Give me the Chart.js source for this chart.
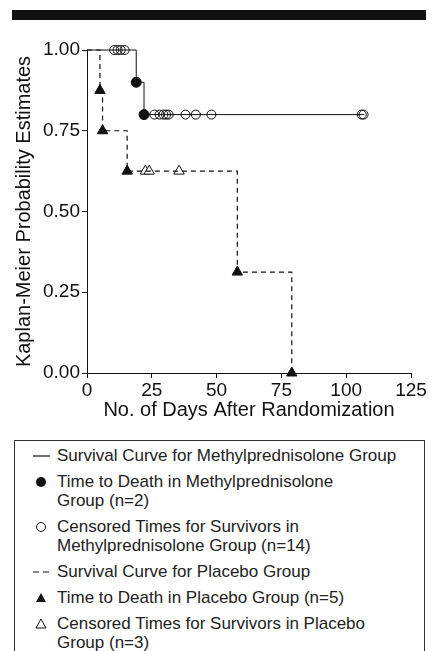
<!DOCTYPE html>
<html>
<head>
<meta charset="utf-8">
<script src="https://cdn.jsdelivr.net/npm/chart.js@4.4.1/dist/chart.umd.min.js"></script>
<style>
  body { margin: 0; background: #fff; font-family: "Liberation Sans", Arial, sans-serif; }
  #bar { position: absolute; left: 12px; top: 10px; width: 414px; height: 10px; background: #111; }
  #wrap { position: absolute; left: 0; top: 0; width: 437px; height: 430px; }
  #legend {
    position: absolute; left: 14px; top: 440px; width: 411px; height: 240px;
    border: 1px solid #333; box-sizing: border-box; padding-top: 5px;
    font-size: 17px; line-height: 19px; color: #222;
  }
  .item { display: flex; margin-bottom: 7px; }
  .sym { width: 24px; margin-left: 18px; height: 19px; flex: none; }
  .sym svg { display: block; }
</style>
</head>
<body>
<div id="bar"></div>
<div id="wrap"><canvas id="kmChart"></canvas></div>
<div id="legend"></div>

<script>
  // Axis ticks
  const xTicks = [0, 25, 50, 75, 100, 125];
  const yTicks = [0, 0.25, 0.5, 0.75, 1];

  // Methylprednisolone group
  const methylCurveDays = [0, 19, 22, 107];
  const methylCurveSurv = [1, 0.9, 0.8, 0.8];
  const methylDeathDays = [19, 22];
  const methylDeathSurv = [0.9, 0.8];
  const methylCensDays = [10.5, 11.8, 13, 14.5, 26, 28, 29.5, 30.5, 31.5, 38, 42, 48, 106, 106.7];
  const methylCensSurv = [1, 1, 1, 1, 0.8, 0.8, 0.8, 0.8, 0.8, 0.8, 0.8, 0.8, 0.8, 0.8];

  // Placebo group
  const placeboCurveDays = [0, 5, 6, 15.5, 58, 79];
  const placeboCurveSurv = [1, 0.875, 0.75, 0.625, 0.3125, 0];
  const placeboDeathDays = [5, 6, 15.5, 58, 79];
  const placeboDeathSurv = [0.875, 0.75, 0.625, 0.3125, 0];
  const placeboCensDays = [22.5, 24, 35.5];
  const placeboCensSurv = [0.625, 0.625, 0.625];

  const legendLabels = [
    ['Survival Curve for Methylprednisolone Group'],
    ['Time to Death in Methylprednisolone', 'Group (n=2)'],
    ['Censored Times for Survivors in', 'Methylprednisolone Group (n=14)'],
    ['Survival Curve for Placebo Group'],
    ['Time to Death in Placebo Group (n=5)'],
    ['Censored Times for Survivors in Placebo', 'Group (n=3)']
  ];

  function pts(xs, ys) {
    return xs.map((x, i) => ({ x: x, y: ys[i] }));
  }

  const ink = '#111';

  const ctx = document.getElementById('kmChart').getContext('2d');
  new Chart(ctx, {
    type: 'line',
    data: {
      datasets: [
        {
          data: pts(methylCurveDays, methylCurveSurv),
          stepped: true, borderColor: ink, borderWidth: 1, pointRadius: 0, clip: false
        },
        {
          data: pts(placeboCurveDays, placeboCurveSurv),
          stepped: true, borderColor: ink, borderWidth: 1.2, borderDash: [5, 4], pointRadius: 0, clip: false
        },
        {
          data: pts(methylCensDays, methylCensSurv), showLine: false,
          pointStyle: 'circle', pointRadius: 4.5, pointBorderWidth: 1,
          pointBorderColor: ink, pointBackgroundColor: 'rgba(0,0,0,0)', clip: false
        },
        {
          data: pts(methylDeathDays, methylDeathSurv), showLine: false,
          pointStyle: 'circle', pointRadius: 5, pointBorderWidth: 1,
          pointBorderColor: ink, pointBackgroundColor: ink, clip: false
        },
        {
          data: pts(placeboCensDays, placeboCensSurv), showLine: false,
          pointStyle: 'triangle', pointRadius: 6, pointBorderWidth: 1,
          pointBorderColor: ink, pointBackgroundColor: '#fff', clip: false
        },
        {
          data: pts(placeboDeathDays, placeboDeathSurv), showLine: false,
          pointStyle: 'triangle', pointRadius: 6, pointBorderWidth: 1,
          pointBorderColor: ink, pointBackgroundColor: ink, clip: false
        }
      ]
    },
    options: {
      responsive: true,
      maintainAspectRatio: false,
      animation: false,
      layout: { padding: { left: 0, right: 26, top: 50, bottom: 0 } },
      plugins: { legend: { display: false }, tooltip: { enabled: false } },
      scales: {
        x: {
          type: 'linear', min: 0, max: 125,
          afterBuildTicks: s => { s.ticks = xTicks.map(v => ({ value: v })); },
          afterFit: s => { s.height = 57; },
          grid: { display: true, drawOnChartArea: false, drawTicks: true, tickLength: 5, color: ink },
          border: { display: true, color: ink, width: 1 },
          ticks: { color: ink, padding: 1, maxRotation: 0, font: { family: 'Liberation Sans', size: 19 } },
          title: {
            display: true, text: 'No. of Days After Randomization', color: ink,
            font: { family: 'Liberation Sans', size: 20 }, padding: { top: 0, bottom: 8 }
          }
        },
        y: {
          min: 0, max: 1,
          afterBuildTicks: s => { s.ticks = yTicks.map(v => ({ value: v })); },
          afterFit: s => { s.width = 87; },
          grid: { display: true, drawOnChartArea: false, drawTicks: true, tickLength: 5, color: ink },
          border: { display: true, color: ink, width: 1 },
          ticks: {
            color: ink, padding: 2, font: { family: 'Liberation Sans', size: 19 },
            callback: v => v.toFixed(2)
          },
          title: {
            display: true, text: 'Kaplan-Meier Probability Estimates', color: ink,
            font: { family: 'Liberation Sans', size: 20 }, padding: { top: 12, bottom: 0 }
          }
        }
      }
    }
  });

  // Legend symbols
  const symbols = [
    '<svg width="17" height="19"><line x1="0" y1="10" x2="17" y2="10" stroke="#111" stroke-width="1.2"/></svg>',
    '<svg width="17" height="19"><circle cx="8" cy="10" r="5" fill="#111"/></svg>',
    '<svg width="17" height="19"><circle cx="8" cy="10" r="4.5" fill="none" stroke="#111" stroke-width="1"/></svg>',
    '<svg width="17" height="19"><line x1="0" y1="10" x2="17" y2="10" stroke="#111" stroke-width="1.2" stroke-dasharray="6,4"/></svg>',
    '<svg width="17" height="19"><polygon points="8,5 13,14 3,14" fill="#111"/></svg>',
    '<svg width="17" height="19"><polygon points="8,5 13,14 3,14" fill="none" stroke="#111" stroke-width="1"/></svg>'
  ];

  let html = '';
  legendLabels.forEach((lines, i) => {
    html += `
      <div class="item">
        <div class="sym">${symbols[i]}</div>
        <div>${lines.join('<br>')}</div>
      </div>`;
  });
  document.getElementById('legend').innerHTML = html;
</script>
</body>
</html>
